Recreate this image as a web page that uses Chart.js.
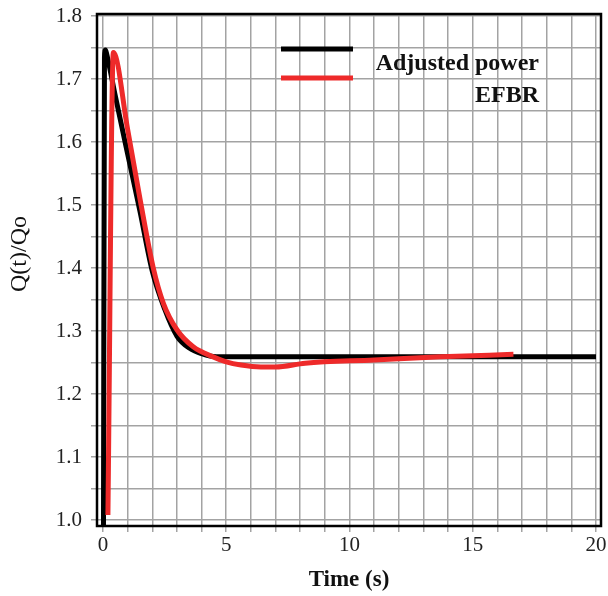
<!DOCTYPE html>
<html>
<head>
<meta charset="utf-8">
<script src="https://cdn.jsdelivr.net/npm/chart.js@4.4.1/dist/chart.umd.min.js"></script>
<style>
  html, body { margin: 0; padding: 0; background: #ffffff; }
  #wrap { width: 608px; height: 596px; }
</style>
</head>
<body>
<div id="wrap"><canvas id="c" width="608" height="596"></canvas></div>
<script>
// ---- Data ----
const seriesNames = ['Adjusted power', 'EFBR'];

const adjustedTime  = [0.02, 0.06, 0.10, 0.16, 0.5, 1.0, 1.5, 2.0, 2.5, 3.0, 3.5, 4.0, 4.6, 5.5, 10, 15, 20];
const adjustedValue = [0.99, 1.735, 1.746, 1.738, 1.673, 1.581, 1.49, 1.395, 1.335, 1.292, 1.273, 1.264, 1.259, 1.259, 1.259, 1.259, 1.259];

const efbrTime  = [0.20, 0.42, 1.0, 1.5, 2.04, 2.45, 3.0, 3.66, 4.47, 5.0, 5.6, 6.4, 7.0, 8.2, 11.0, 13.7, 16.65];
const efbrValue = [1.008, 1.742, 1.62, 1.51, 1.40, 1.344, 1.302, 1.275, 1.259, 1.251, 1.246, 1.243, 1.243, 1.249, 1.254, 1.259, 1.263];

const xTickValues = [0,1,2,3,4,5,6,7,8,9,10,11,12,13,14,15,16,17,18,19,20];
const xTickLabels = ['0','5','10','15','20'];
const yTickValues = [1.0,1.05,1.1,1.15,1.2,1.25,1.3,1.35,1.4,1.45,1.5,1.55,1.6,1.65,1.7,1.75,1.8];
const yTickLabels = ['1.0','1.1','1.2','1.3','1.4','1.5','1.6','1.7','1.8'];

const xTitle = 'Time (s)';
const yTitle = 'Q(t)/Qo';

// ---- Styles ----
const SERIF = '"Liberation Serif", "DejaVu Serif", serif';
const colors = ['#000000', '#ee2a2a'];
const gridColor = '#a3a3a3';

const toPoints = (xs, ys) => xs.map((x, i) => ({ x: x, y: ys[i] }));

const framePlugin = {
  id: 'frameAndLegend',
  afterDraw(chart) {
    const ctx = chart.ctx;
    const a = chart.chartArea;
    ctx.save();
    // frame
    ctx.strokeStyle = '#000';
    ctx.lineWidth = 2.5;
    ctx.strokeRect(a.left, a.top, a.right - a.left, a.bottom - a.top);
    // legend samples
    const ds = chart.data.datasets;
    const ys = [49, 78];
    ds.forEach((d, i) => {
      ctx.strokeStyle = d.borderColor;
      ctx.lineWidth = 5;
      ctx.beginPath();
      ctx.moveTo(281, ys[i]);
      ctx.lineTo(353, ys[i]);
      ctx.stroke();
    });
    ctx.fillStyle = '#111';
    ctx.font = 'bold 24px ' + SERIF;
    ctx.textAlign = 'right';
    ctx.textBaseline = 'alphabetic';
    ctx.fillText(ds[0].label, 539, 70);
    ctx.fillText(ds[1].label, 539, 102);
    // y title
    ctx.translate(20, 254);
    ctx.rotate(-Math.PI / 2);
    ctx.textAlign = 'center';
    ctx.textBaseline = 'middle';
    ctx.font = '24px ' + SERIF;
    ctx.fillText(yTitle, 0, 0);
    ctx.restore();
  }
};

new Chart(document.getElementById('c'), {
  type: 'scatter',
  data: {
    datasets: [
      {
        label: seriesNames[0],
        data: toPoints(adjustedTime, adjustedValue),
        showLine: true,
        borderColor: colors[0],
        backgroundColor: colors[0],
        borderWidth: 5,
        pointRadius: 0,
        cubicInterpolationMode: 'monotone',
        order: 2
      },
      {
        label: seriesNames[1],
        data: toPoints(efbrTime, efbrValue),
        showLine: true,
        borderColor: colors[1],
        backgroundColor: colors[1],
        borderWidth: 5,
        pointRadius: 0,
        cubicInterpolationMode: 'monotone',
        order: 1
      }
    ]
  },
  options: {
    responsive: false,
    animation: false,
    devicePixelRatio: 1,
    layout: { padding: { left: 0, top: 14, right: 7, bottom: 0 } },
    plugins: {
      legend: { display: false },
      tooltip: { enabled: false }
    },
    scales: {
      x: {
        type: 'linear',
        min: -0.243,
        max: 20.203,
        afterBuildTicks(scale) { scale.ticks = xTickValues.map(v => ({ value: v })); },
        afterFit(scale) { scale.height = 70; scale.paddingLeft = 0; scale.paddingRight = 0; },
        border: { display: false },
        grid: { color: gridColor, lineWidth: 1.5, drawTicks: true, tickLength: 6, tickColor: gridColor },
        ticks: {
          autoSkip: false, maxRotation: 0, padding: 1, color: '#222',
          font: { family: SERIF, size: 21 },
          callback: (v) => { const s = String(v); return xTickLabels.includes(s) ? s : ''; }
        },
        title: {
          display: true, text: xTitle, color: '#111',
          font: { family: SERIF, size: 23, weight: 'bold' },
          padding: { top: 0, bottom: 2 }
        }
      },
      y: {
        type: 'linear',
        min: 0.9905,
        max: 1.8032,
        afterBuildTicks(scale) { scale.ticks = yTickValues.map(v => ({ value: v })); },
        afterFit(scale) { scale.width = 97; scale.paddingTop = 0; scale.paddingBottom = 0; },
        border: { display: false },
        grid: { color: gridColor, lineWidth: 1.5, drawTicks: true, tickLength: 6, tickColor: gridColor },
        ticks: {
          autoSkip: false, padding: 9, color: '#222',
          font: { family: SERIF, size: 21 },
          callback: (v) => { const s = Number(v).toFixed(1); return (yTickLabels.includes(s) && Math.abs(Number(s) - v) < 1e-6) ? s : ''; }
        },
        title: { display: false }
      }
    }
  },
  plugins: [framePlugin]
});
</script>
</body>
</html>
